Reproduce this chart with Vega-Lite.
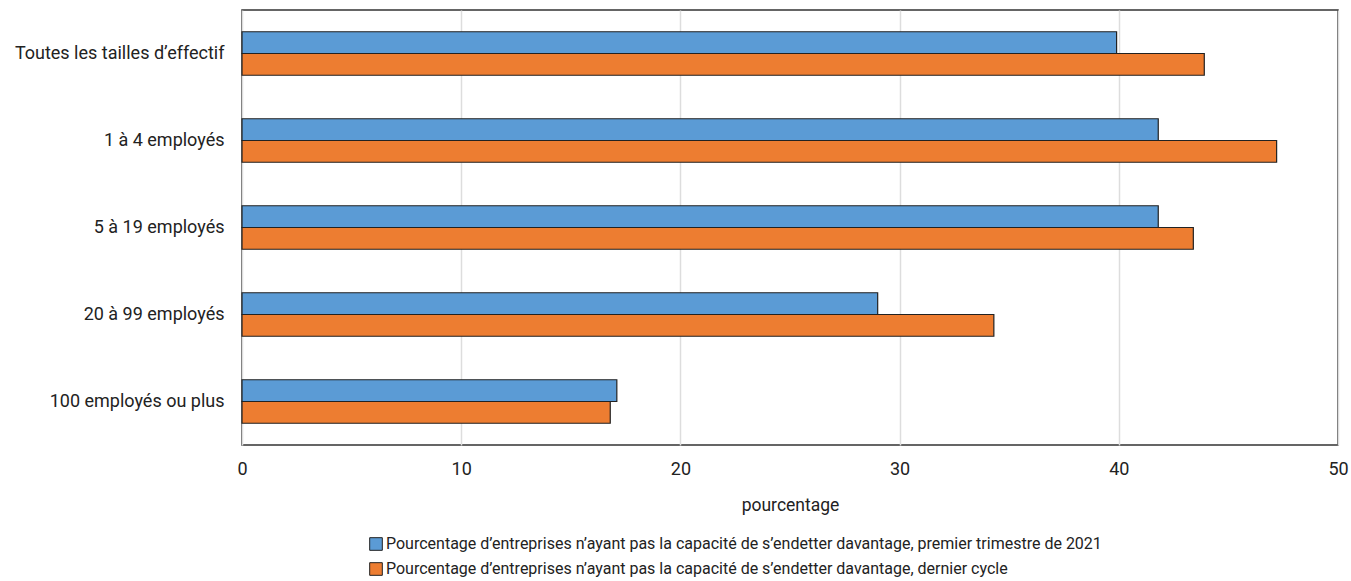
{
  "$schema": "https://vega.github.io/schema/vega-lite/v6.json",
  "width": 1096,
  "height": 435,
  "autosize": {"type": "none"},
  "padding": {"left": 242, "top": 10, "right": 13, "bottom": 136},
  "config": {
    "font": "Roboto",
    "view": {"stroke": "#333333", "strokeWidth": 1.5},
    "axis": {"labelFont": "Roboto", "titleFont": "Roboto", "labelColor": "#222222", "titleColor": "#222222"},
    "legend": {"labelFont": "Roboto", "labelColor": "#222222"}
  },
  "data": {
    "values": [
      {"cat": "Toutes les tailles d’effectif", "serie": "Pourcentage d’entreprises n’ayant pas la capacité de s’endetter davantage, premier trimestre de 2021", "value": 39.9},
      {"cat": "Toutes les tailles d’effectif", "serie": "Pourcentage d’entreprises n’ayant pas la capacité de s’endetter davantage, dernier cycle", "value": 43.9},
      {"cat": "1 à 4 employés", "serie": "Pourcentage d’entreprises n’ayant pas la capacité de s’endetter davantage, premier trimestre de 2021", "value": 41.8},
      {"cat": "1 à 4 employés", "serie": "Pourcentage d’entreprises n’ayant pas la capacité de s’endetter davantage, dernier cycle", "value": 47.2},
      {"cat": "5 à 19 employés", "serie": "Pourcentage d’entreprises n’ayant pas la capacité de s’endetter davantage, premier trimestre de 2021", "value": 41.8},
      {"cat": "5 à 19 employés", "serie": "Pourcentage d’entreprises n’ayant pas la capacité de s’endetter davantage, dernier cycle", "value": 43.4},
      {"cat": "20 à 99 employés", "serie": "Pourcentage d’entreprises n’ayant pas la capacité de s’endetter davantage, premier trimestre de 2021", "value": 29.0},
      {"cat": "20 à 99 employés", "serie": "Pourcentage d’entreprises n’ayant pas la capacité de s’endetter davantage, dernier cycle", "value": 34.3},
      {"cat": "100 employés ou plus", "serie": "Pourcentage d’entreprises n’ayant pas la capacité de s’endetter davantage, premier trimestre de 2021", "value": 17.1},
      {"cat": "100 employés ou plus", "serie": "Pourcentage d’entreprises n’ayant pas la capacité de s’endetter davantage, dernier cycle", "value": 16.8}
    ]
  },
  "mark": {"type": "bar", "stroke": "#222222", "strokeWidth": 1.2},
  "encoding": {
    "y": {
      "field": "cat", "type": "nominal", "sort": null,
      "scale": {"paddingInner": 0.5, "paddingOuter": 0.25},
      "axis": {"title": null, "ticks": false, "domain": false, "labelFontSize": 18, "labelPadding": 18, "labelLimit": 300}
    },
    "x": {
      "field": "value", "type": "quantitative",
      "scale": {"domain": [0, 50], "nice": false},
      "axis": {"title": "pourcentage", "values": [0, 10, 20, 30, 40, 50], "ticks": false, "domain": false, "grid": true, "gridColor": "#dddddd", "gridWidth": 1.5, "labelFontSize": 18, "labelPadding": 15, "titleFontSize": 17.5, "titleFontWeight": "normal", "titlePadding": 18, "labelFlush": false}
    },
    "yOffset": {"field": "serie", "type": "nominal", "sort": null, "scale": {"paddingInner": 0, "paddingOuter": 0}},
    "color": {
      "field": "serie", "type": "nominal", "sort": null,
      "scale": {"range": ["#5B9BD5", "#ED7D31"]},
      "legend": {"title": null, "orient": "none", "legendX": 126, "legendY": 526, "symbolType": "square", "symbolSize": 160, "symbolStrokeColor": "#222222", "symbolStrokeWidth": 1, "labelFontSize": 16, "labelLimit": 900, "rowPadding": 7, "labelOffset": 2, "symbolOpacity": 1}
    }
  }
}
